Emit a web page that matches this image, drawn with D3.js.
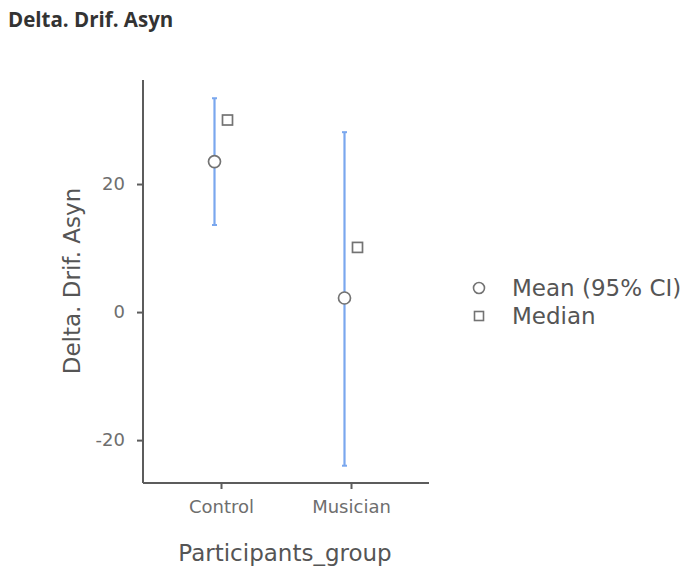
<!DOCTYPE html>
<html>
<head>
<meta charset="utf-8">
<script src="https://cdn.jsdelivr.net/npm/d3@7"></script>
<style>
  body { margin: 0; background: #fff; }
  text { font-family: "DejaVu Sans", sans-serif; }
</style>
</head>
<body>
<div id="chart"></div>
<script>
// Chart data
const groups = ["Control", "Musician"];
const means = [23.5, 2.2];
const ciLow = [13.6, -24.0];
const ciHigh = [33.4, 28.1];
const medians = [30.0, 10.1];
const yTicks = [-20, 0, 20];
const legendLabels = ["Mean (95% CI)", "Median"];

const width = 693;
const height = 567;

const svg = d3.select("#chart")
  .append("svg")
  .attr("width", width)
  .attr("height", height);

// scales
const x = d3.scalePoint()
  .domain(groups)
  .range([143, 429])
  .padding(0.6);

const y = d3.scaleLinear()
  .domain([-26.7, 36.25])
  .range([483, 80]);

const dodge = 6.5;
const axisColor = "#5c5c5c";
const markColor = "#737373";

// title
svg.append("text")
  .attr("x", 8)
  .attr("y", 27)
  .style("font-family", "'Open Sans', 'DejaVu Sans', sans-serif")
  .style("font-weight", "bold")
  .style("font-size", "20.5px")
  .style("fill", "#333")
  .text("Delta. Drif. Asyn");

// y axis
const yAxis = svg.append("g")
  .attr("transform", "translate(143,0)")
  .call(d3.axisLeft(y).tickValues(yTicks).tickSize(6).tickPadding(12)
    .tickFormat(function(d) { return String(d); }));

// x axis
const xAxis = svg.append("g")
  .attr("transform", "translate(0,483)")
  .call(d3.axisBottom(x).tickSize(6).tickPadding(11));

[yAxis, xAxis].forEach(function(g) {
  g.select(".domain").attr("stroke", axisColor).attr("stroke-width", 2);
  g.selectAll(".tick line").attr("stroke", axisColor).attr("stroke-width", 2);
  g.selectAll(".tick text")
    .style("font-size", "18px")
    .style("font-family", "'DejaVu Sans', sans-serif")
    .attr("fill", "#6e6e6e");
});
// no end ticks on the axis lines
yAxis.select(".domain").attr("d", "M0,80V483");
xAxis.select(".domain").attr("d", "M143,0H429");

// axis titles
svg.append("text")
  .attr("transform", "translate(80,281) rotate(-90)")
  .attr("text-anchor", "middle")
  .style("font-size", "23px")
  .style("fill", "#555")
  .text("Delta. Drif. Asyn");

svg.append("text")
  .attr("x", 285)
  .attr("y", 561)
  .attr("text-anchor", "middle")
  .style("font-size", "23px")
  .style("fill", "#555")
  .text("Participants_group");

// CI error bars
const ciColor = "#7aa7ee";
svg.selectAll(".ci")
  .data(groups)
  .enter()
  .append("line")
  .attr("class", "ci")
  .attr("x1", function(d) { return x(d) - dodge; })
  .attr("x2", function(d) { return x(d) - dodge; })
  .attr("y1", function(d, i) { return y(ciLow[i]); })
  .attr("y2", function(d, i) { return y(ciHigh[i]); })
  .attr("stroke", ciColor)
  .attr("stroke-width", 2.2);

// small caps on error bars
[ciLow, ciHigh].forEach(function(arr) {
  svg.selectAll(null)
    .data(groups)
    .enter()
    .append("line")
    .attr("x1", function(d) { return x(d) - dodge - 2.5; })
    .attr("x2", function(d) { return x(d) - dodge + 2.5; })
    .attr("y1", function(d, i) { return y(arr[i]); })
    .attr("y2", function(d, i) { return y(arr[i]); })
    .attr("stroke", ciColor)
    .attr("stroke-width", 2);
});

// means
svg.selectAll(".mean")
  .data(groups)
  .enter()
  .append("circle")
  .attr("class", "mean")
  .attr("cx", function(d) { return x(d) - dodge; })
  .attr("cy", function(d, i) { return y(means[i]); })
  .attr("r", 6)
  .attr("fill", "white")
  .attr("stroke", markColor)
  .attr("stroke-width", 1.7);

// medians
svg.selectAll(".median")
  .data(groups)
  .enter()
  .append("rect")
  .attr("class", "median")
  .attr("x", function(d) { return x(d) + dodge - 5; })
  .attr("y", function(d, i) { return y(medians[i]) - 5; })
  .attr("width", 10)
  .attr("height", 10)
  .attr("fill", "white")
  .attr("stroke", markColor)
  .attr("stroke-width", 1.7);

// legend
const legend = svg.selectAll(".legend")
  .data(legendLabels)
  .enter()
  .append("g")
  .attr("class", "legend")
  .attr("transform", function(d, i) { return "translate(479," + (288 + i * 28) + ")"; });

legend.each(function(d, i) {
  const g = d3.select(this);
  if (i === 0) {
    g.append("circle").attr("r", 5.5).attr("fill", "white")
      .attr("stroke", markColor).attr("stroke-width", 1.6);
  } else {
    g.append("rect").attr("x", -4.5).attr("y", -4.5).attr("width", 9).attr("height", 9)
      .attr("fill", "white").attr("stroke", markColor).attr("stroke-width", 1.6);
  }
});

legend.append("text")
  .attr("x", 33)
  .attr("y", 0)
  .attr("dy", "0.35em")
  .style("font-size", "23px")
  .style("fill", "#555")
  .text(function(d) { return d; });
</script>
</body>
</html>
